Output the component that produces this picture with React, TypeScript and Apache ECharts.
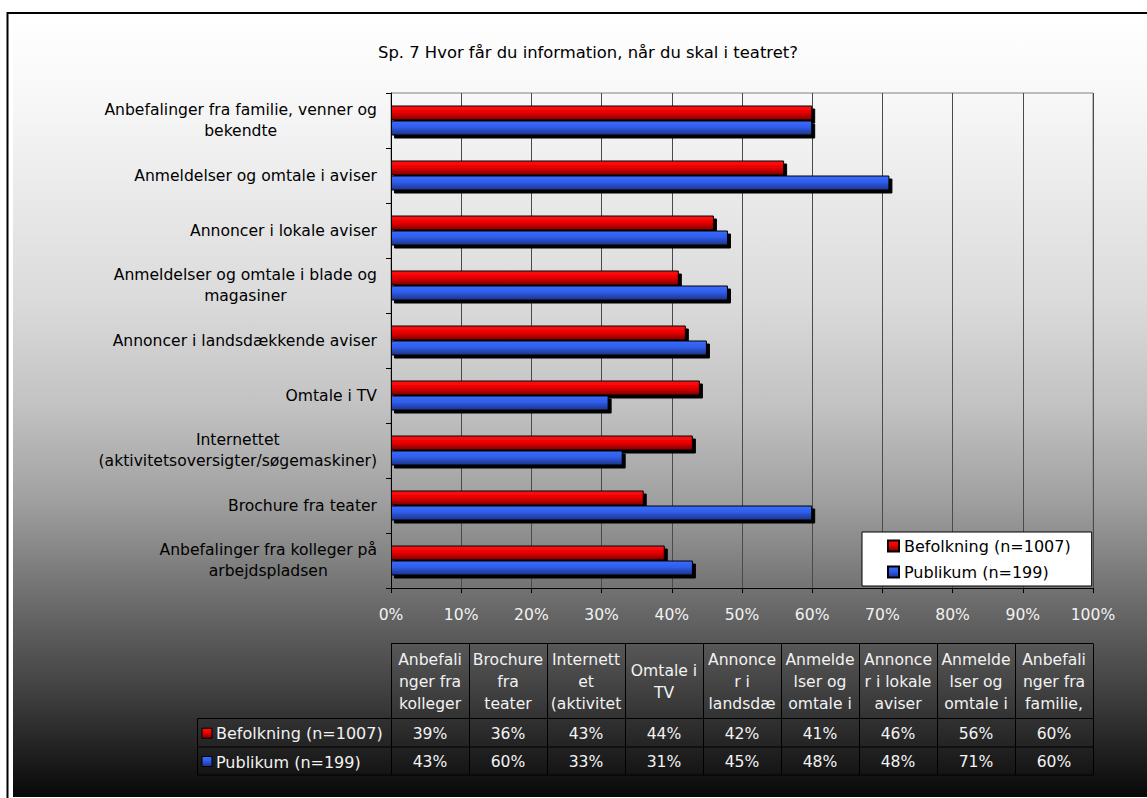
import React, { useEffect, useRef } from "react";
import * as echarts from "echarts";

const FONT = "DejaVu Sans";
const W = 1147;
const H = 798;

const chartTitle = "Sp. 7 Hvor får du information, når du skal i teatret?";
const categories = [
  "Anbefalinger fra kolleger på arbejdspladsen",
  "Brochure fra teater",
  "Internettet (aktivitetsoversigter/søgemaskiner)",
  "Omtale i TV",
  "Annoncer i landsdækkende aviser",
  "Anmeldelser og omtale i blade og magasiner",
  "Annoncer i lokale aviser",
  "Anmeldelser og omtale i aviser",
  "Anbefalinger fra familie, venner og bekendte",
];
const seriesNames = ["Befolkning (n=1007)", "Publikum (n=199)"];
const befolkning = [39, 36, 43, 44, 42, 41, 46, 56, 60];
const publikum = [43, 60, 33, 31, 45, 48, 48, 71, 60];
const tableHeaders = [
  ["Anbefali", "nger fra", "kolleger"],
  ["Brochure", "fra", "teater"],
  ["Internett", "et", "(aktivitet"],
  ["Omtale i", "TV"],
  ["Annonce", "r i", "landsdæ"],
  ["Anmelde", "lser og", "omtale i"],
  ["Annonce", "r i lokale", "aviser"],
  ["Anmelde", "lser og", "omtale i"],
  ["Anbefali", "nger fra", "familie,"],
];
const xMin = 0;
const xMax = 100;
const xStep = 10;

const PLOT_LEFT = 391;
const PLOT_RIGHT = 1093;
const PLOT_TOP = 93;
const PLOT_BOTTOM = 588;

function wrap(s: string, max: number): string[] {
  const words = s.split(" ");
  const lines: string[] = [];
  let cur = "";
  for (const w of words) {
    const t = cur ? cur + " " + w : w;
    if (t.length > max && cur) {
      lines.push(cur);
      cur = w;
    } else cur = t;
  }
  if (cur) lines.push(cur);
  return lines;
}

const redGrad = () =>
  new echarts.graphic.LinearGradient(0, 0, 0, 1, [
    { offset: 0, color: "#ff1010" },
    { offset: 0.45, color: "#ec0000" },
    { offset: 1, color: "#7a0000" },
  ]);
const blueGrad = () =>
  new echarts.graphic.LinearGradient(0, 0, 0, 1, [
    { offset: 0, color: "#3a6cff" },
    { offset: 0.45, color: "#2f5ce8" },
    { offset: 1, color: "#1c3386" },
  ]);

function txt(x: number, y: number, text: string, size: number, fill: string, align = "center") {
  return {
    type: "text",
    x,
    y,
    style: {
      text,
      fill,
      fontSize: size,
      fontFamily: FONT,
      align,
      verticalAlign: "middle",
      textAlign: align,
      textVerticalAlign: "middle",
    },
  };
}

function line(x1: number, y1: number, x2: number, y2: number, color = "#000") {
  return {
    type: "line",
    shape: { x1, y1, x2, y2 },
    style: { stroke: color, lineWidth: 1 },
  };
}

function buildTable() {
  const els: any[] = [];
  const n = categories.length;
  const colW = (PLOT_RIGHT - PLOT_LEFT) / n;
  const tTop = 643.5;
  const tHead = 718.5;
  const tRow = 747;
  const tBot = 775;
  const labLeft = 197.5;
  els.push(line(PLOT_LEFT, tTop, PLOT_RIGHT, tTop));
  els.push(line(labLeft, tHead, PLOT_RIGHT, tHead));
  els.push(line(labLeft, tRow, PLOT_RIGHT, tRow));
  els.push(line(labLeft, tBot, PLOT_RIGHT, tBot));
  els.push(line(labLeft, tHead, labLeft, tBot));
  for (let i = 0; i <= n; i++) {
    const x = Math.round(PLOT_LEFT + i * colW) + 0.5;
    els.push(line(x, tTop, x, tBot));
  }
  const headMid = (tTop + tHead) / 2 + 1;
  const lh = 22;
  tableHeaders.forEach((lines, i) => {
    const cx = PLOT_LEFT + (i + 0.5) * colW;
    const start = headMid - ((lines.length - 1) * lh) / 2;
    lines.forEach((l, j) => els.push(txt(cx, start + j * lh, l, 15.6, "#f2f2f2")));
  });
  const rows = [befolkning, publikum];
  const rowMid = [(tHead + tRow) / 2 + 1, (tRow + tBot) / 2 + 1];
  const grads = [redGrad, blueGrad];
  rows.forEach((vals, r) => {
    els.push({
      type: "rect",
      shape: { x: 202, y: rowMid[r] - 5.5, width: 10, height: 10 },
      style: { fill: grads[r](), stroke: "#000", lineWidth: 1 },
    });
    els.push(txt(216, rowMid[r], seriesNames[r], 16, "#f2f2f2", "left"));
    vals.forEach((v, i) => {
      const cx = PLOT_LEFT + (i + 0.5) * colW;
      els.push(txt(cx, rowMid[r], v + "%", 15.6, "#f2f2f2"));
    });
  });
  return els;
}

export default function App() {
  const ref = useRef<HTMLDivElement>(null);
  useEffect(() => {
    if (!ref.current) return;
    const chart = echarts.init(ref.current, undefined, { renderer: "svg", width: W, height: H });
    const barStyle = (grad: () => any) => ({
      color: grad(),
      borderColor: "#000",
      borderWidth: 1,
      shadowColor: "#000",
      shadowBlur: 0,
      shadowOffsetX: 3,
      shadowOffsetY: 3,
    });
    chart.setOption({
      animation: false,
      textStyle: { fontFamily: FONT },
      title: {
        text: chartTitle,
        left: 378,
        top: 44,
        padding: 0,
        textStyle: { fontFamily: FONT, fontSize: 16.4, fontWeight: "normal", color: "#000" },
      },
      legend: {
        data: seriesNames,
        orient: "vertical",
        left: 862,
        top: 532,
        padding: [6, 21, 6, 25],
        itemWidth: 11,
        itemHeight: 11,
        itemGap: 10,
        icon: "rect",
        backgroundColor: "#ffffff",
        borderColor: "#000",
        borderWidth: 1,
        borderRadius: 0,
        z: 10,
        textStyle: { fontFamily: FONT, fontSize: 16, color: "#000" },
        itemStyle: { shadowBlur: 0, shadowOffsetX: 0, shadowOffsetY: 0, shadowColor: "rgba(0,0,0,0)" },
      },
      grid: {
        left: PLOT_LEFT,
        right: W - PLOT_RIGHT,
        top: PLOT_TOP,
        bottom: H - PLOT_BOTTOM,
        show: true,
        borderColor: "#808080",
        borderWidth: 1,
        backgroundColor: "transparent",
      },
      xAxis: {
        type: "value",
        min: xMin,
        max: xMax,
        interval: xStep,
        axisLine: { show: true, lineStyle: { color: "#000", width: 1 } },
        axisTick: { show: true, length: 5, lineStyle: { color: "#000" } },
        splitLine: { show: true, lineStyle: { color: "#4a4a4a", width: 1 } },
        axisLabel: {
          formatter: "{value}%",
          color: "#f2f2f2",
          fontSize: 15.6,
          fontFamily: FONT,
          margin: 19,
        },
      },
      yAxis: {
        type: "category",
        data: categories,
        axisLine: { show: true, lineStyle: { color: "#000", width: 1 } },
        axisTick: { show: true, length: 5, lineStyle: { color: "#000" } },
        splitLine: { show: false },
        axisLabel: {
          margin: 14,
          align: "right",
          formatter: (v: string) => wrap(v, 35).map((l) => `{c|${l}}`).join("\n"),
          rich: {
            c: { align: "center", fontSize: 15.6, fontFamily: FONT, color: "#000", lineHeight: 21 },
          },
        },
      },
      series: [
        {
          name: seriesNames[0],
          type: "bar",
          data: befolkning,
          barWidth: 15,
          barGap: "0%",
          z: 2,
          itemStyle: barStyle(redGrad),
        },
        {
          name: seriesNames[1],
          type: "bar",
          data: publikum,
          barWidth: 15,
          barGap: "0%",
          z: 3,
          itemStyle: barStyle(blueGrad),
        },
      ],
      graphic: [
        {
          type: "rect",
          z: -100,
          silent: true,
          shape: { x: 13, y: 16, width: W, height: H - 16 - 1 },
          style: {
            fill: new echarts.graphic.LinearGradient(0, 0, 0, 1, [
              { offset: 0, color: "#ffffff" },
              { offset: 0.1, color: "#f8f8f8" },
              { offset: 0.37, color: "#dadada" },
              { offset: 0.5, color: "#c2c2c2" },
              { offset: 0.62, color: "#a0a0a0" },
              { offset: 0.75, color: "#6c6c6c" },
              { offset: 0.875, color: "#3c3c3c" },
              { offset: 1, color: "#080808" },
            ]),
          },
        },
        {
          type: "rect",
          z: 100,
          silent: true,
          shape: { x: 7.5, y: 13, width: W + 50, height: H + 50 },
          style: { fill: "none", stroke: "#000", lineWidth: 2 },
        },
        ...buildTable(),
      ],
    });
    return () => chart.dispose();
  }, []);
  return (
    <div
      ref={ref}
      style={{ position: "fixed", left: 0, top: 0, width: W, height: H, background: "#fff" }}
    />
  );
}
